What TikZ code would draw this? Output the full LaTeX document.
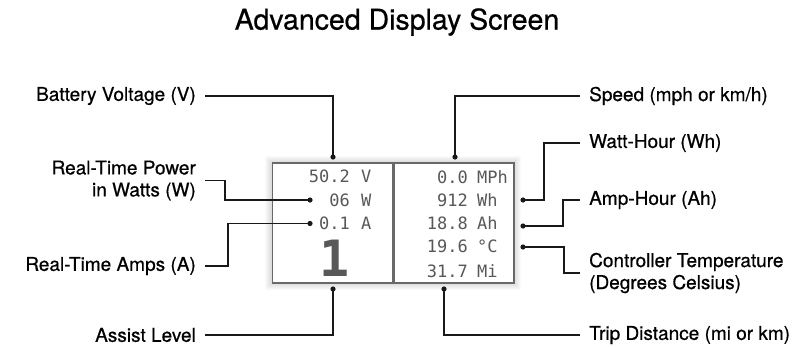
\documentclass[tikz,border=0pt]{standalone}
\usepackage{fontspec}
\setmainfont{TeX Gyre Heros}[FakeBold=0.6]
\newfontfamily\lcdfont{DejaVu Sans Mono}
\usepackage{xcolor}
\usepackage{tikz}
\usetikzlibrary{positioning,calc}
\definecolor{lcdgray}{RGB}{88,88,88}
\definecolor{framegray}{RGB}{105,105,105}
\definecolor{leadblack}{RGB}{25,25,25}

\begin{document}
\begin{tikzpicture}[x=1pt,y=-1pt,
  lbl/.style={font=\fontsize{19}{22}\selectfont,inner xsep=9pt,inner ysep=0pt},
  lead/.style={leadblack,line width=1.2pt},
  lcd/.style={font=\lcdfont\fontsize{17}{17}\selectfont,text=lcdgray,inner sep=0pt},
  panel/.style={draw=framegray,line width=1.8pt,fill=white,minimum width=120pt,minimum height=120pt,inner sep=0pt}]
\useasboundingbox (0,0) rectangle (792,346);
\node (title) at (397,22) {\fontsize{28.5}{32}\selectfont Advanced Display Screen};

\foreach \s in {1,...,7}
  \fill[black,opacity=0.02] (272-\s,163-\s) rectangle (514+\s,283+\s);
\node[panel] (lpanel) at (332.5,223) {};
\node[panel] (rpanel) at (454,223) {};

\foreach \y/\num/\unit/\nm in {176/50.2/V/a,200/06/W/b,223.5/0.1/A/c} {
  \node[lcd,anchor=east] (lnum\nm) at (350,\y) {\num};
  \node[lcd,anchor=west] (lunit\nm) at (361,\y) {\unit};
}
\node[lcd,font=\lcdfont\bfseries\fontsize{50}{50}\selectfont] (level) at (335,258.5) {1};
\foreach \y/\num/\unit/\nm in {177.5/0.0/MPh/a,200.5/912/Wh/b,223.5/18.8/Ah/c,246.5/19.6/°C/d,271.5/31.7/Mi/e} {
  \node[lcd,anchor=east] (rnum\nm) at (468,\y) {\num};
  \node[lcd,anchor=west] (runit\nm) at (477,\y) {\unit};
}

\coordinate (pV) at (333,157);
\coordinate (pW) at (310,200);
\coordinate (pA) at (310,223.5);
\coordinate (pL) at (333,289);
\coordinate (pS) at (455,157);
\coordinate (pWh) at (523,200);
\coordinate (pAh) at (523,226);
\coordinate (pC) at (523,247);
\coordinate (pT) at (444,289);

\node[lbl,anchor=east] (bv) at (205,96) {Battery Voltage (V)};
\node[lbl,anchor=east,align=right] (rtp) at (205,180.5) {Real-Time Power\\in Watts (W)};
\node[lbl,anchor=east] (rta) at (205,266) {Real-Time Amps (A)};
\node[lbl,anchor=east] (al) at (205,335) {Assist Level};
\node[lbl,anchor=west] (spd) at (580,96) {Speed (mph or km/h)};
\node[lbl,anchor=west] (wh) at (580,143) {Watt-Hour (Wh)};
\node[lbl,anchor=west] (ah) at (580,200) {Amp-Hour (Ah)};
\node[lbl,anchor=west,align=left] (ct) at (580,273) {Controller Temperature\\(Degrees Celsius)};
\node[lbl,anchor=west] (td) at (580,335) {Trip Distance (mi or km)};

\draw[lead] (pV) |- (bv.east);
\draw[lead] (pW) -| ([xshift=20pt]rtp.east) -- (rtp.east);
\draw[lead] (pA) -| ([xshift=23pt]rta.east) -- (rta.east);
\draw[lead] (pL) |- (al.east);
\draw[lead] (pS) |- (spd.west);
\draw[lead] (pWh) -| ([xshift=-36pt]wh.west) -- (wh.west);
\draw[lead] (pAh) -| ([xshift=-17pt]ah.west) -- (ah.west);
\draw[lead] (pC) -| ([xshift=-16pt]ct.west) -- (ct.west);
\draw[lead] (pT) |- (td.west);
\foreach \p in {pV,pW,pA,pL,pS,pWh,pAh,pC,pT}
  \fill[leadblack] (\p) circle (2.6pt);
\end{tikzpicture}
\end{document}
